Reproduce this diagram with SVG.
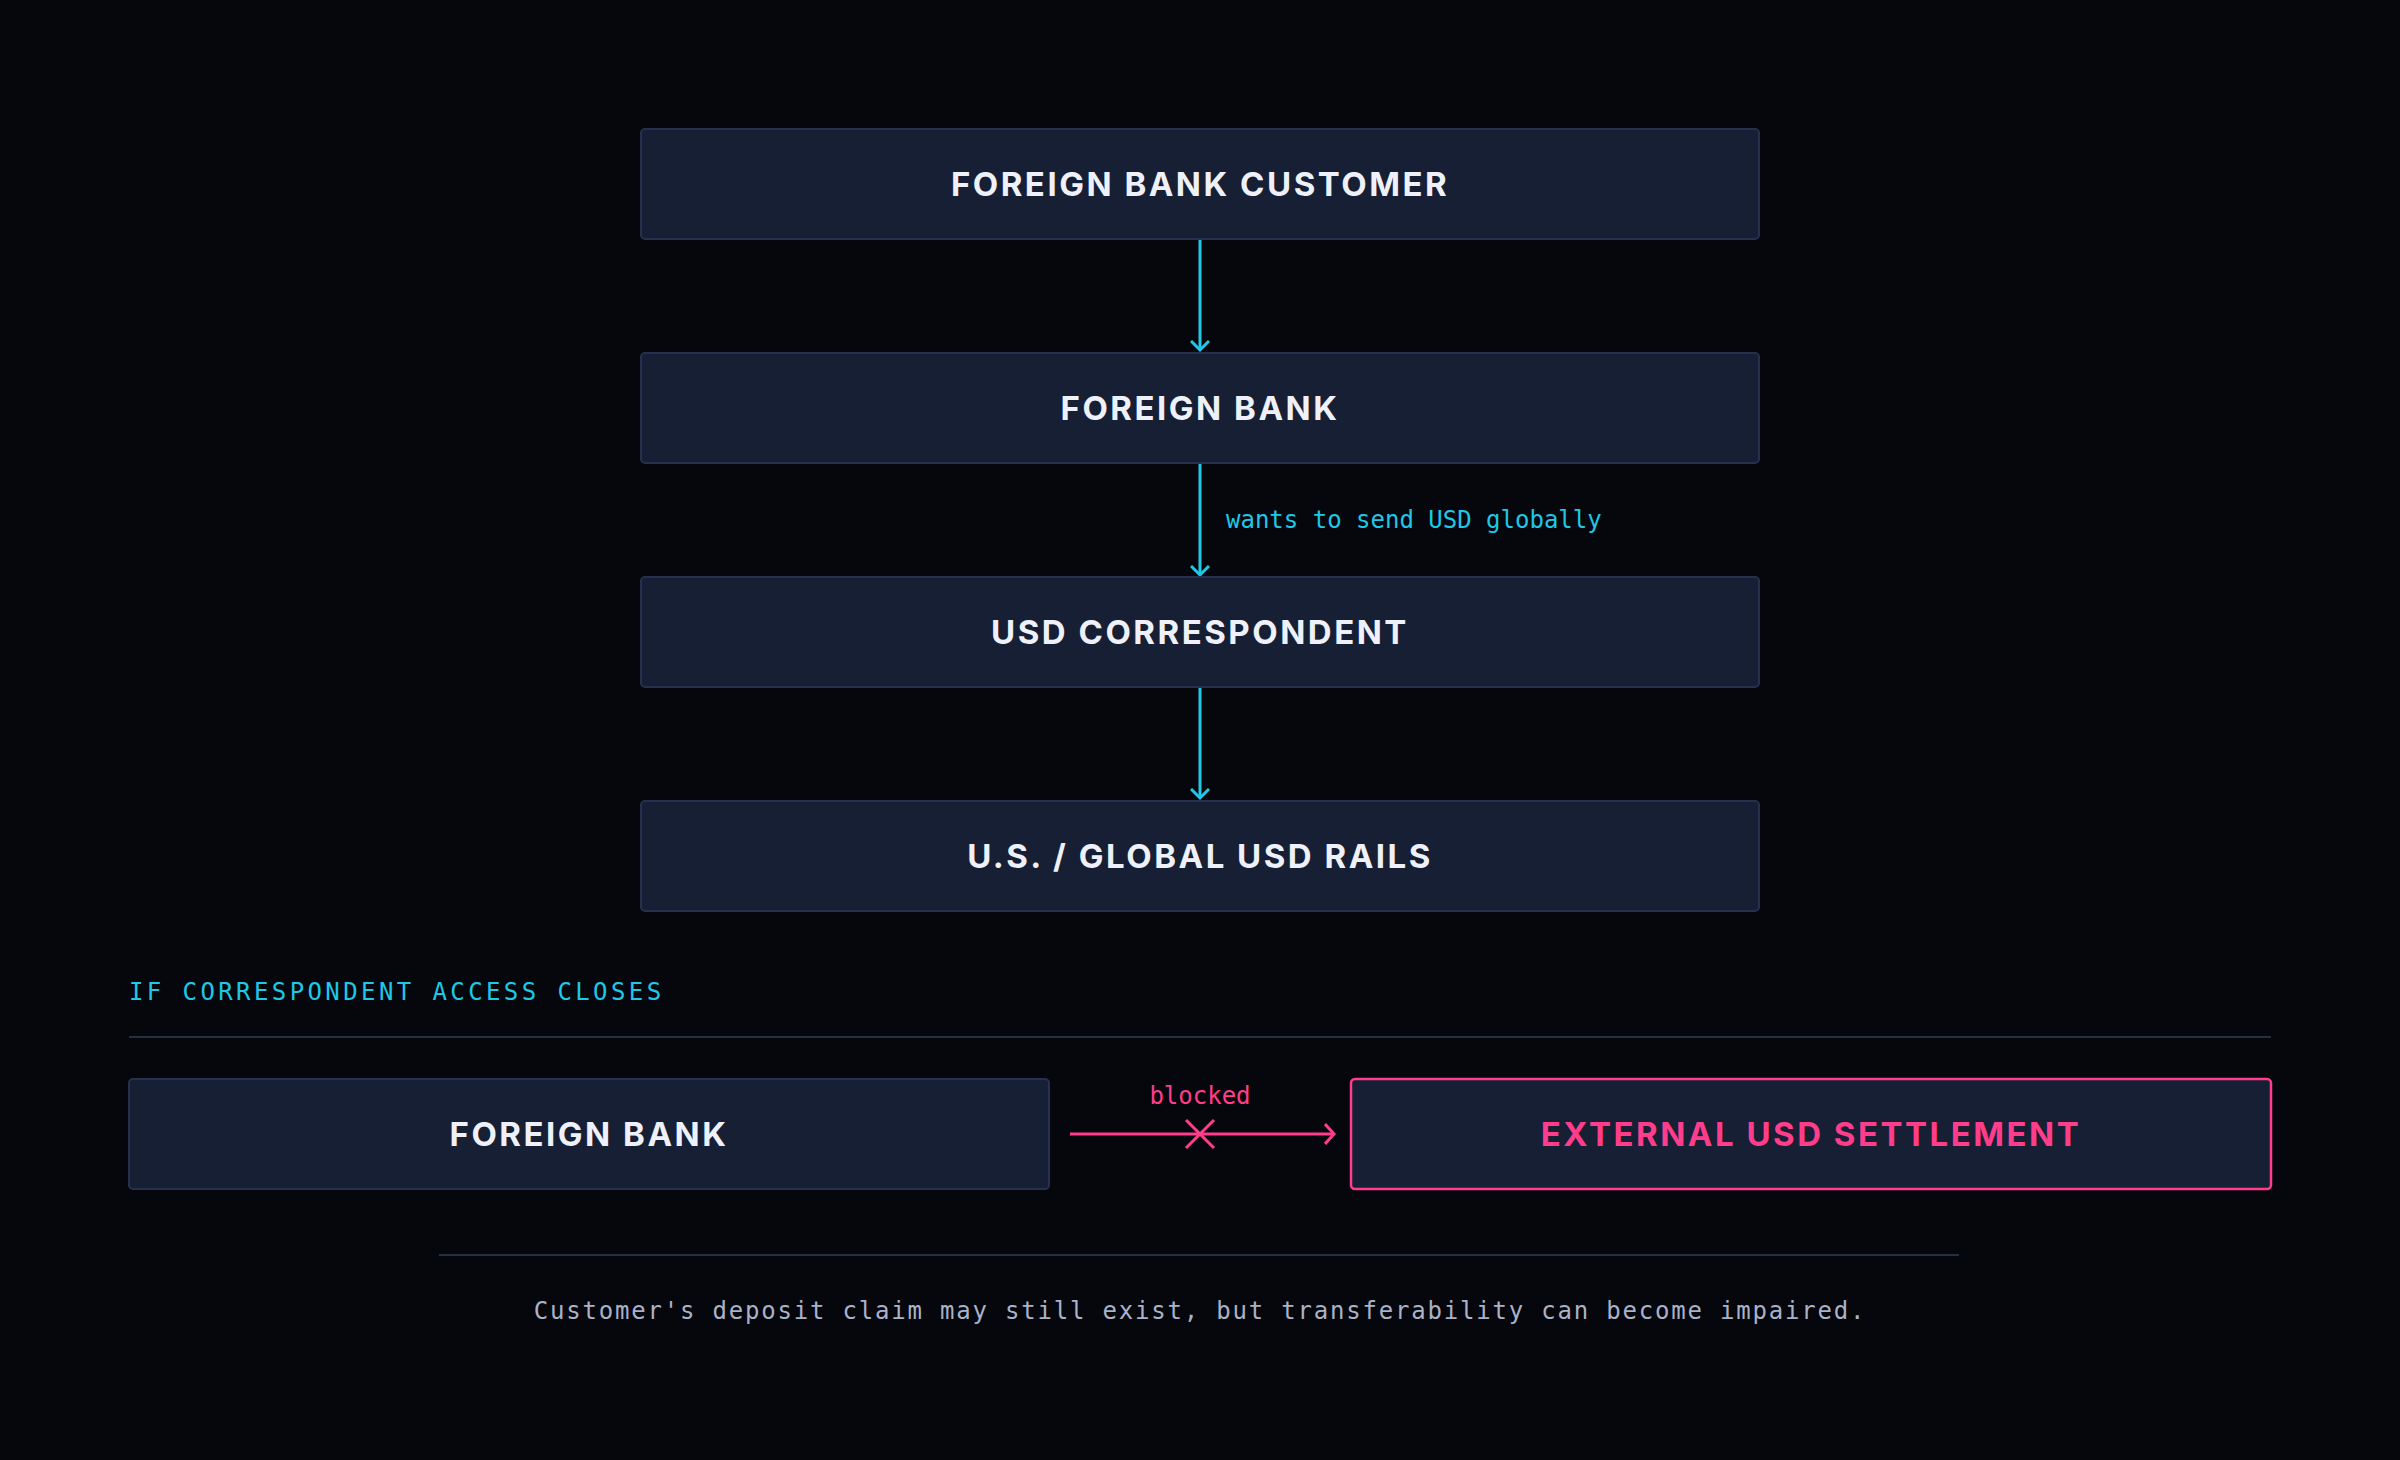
<svg xmlns="http://www.w3.org/2000/svg" width="2400" height="1460" viewBox="0 0 2400 1460">
<style>
.box{fill:#161f33;stroke:#263150;stroke-width:2}
.t{font-family:Inter,"Liberation Sans",sans-serif;font-weight:700;font-size:33px;letter-spacing:2.5px;fill:#eef1fa;text-anchor:middle;dominant-baseline:central}
.m{font-family:"DejaVu Sans Mono","Liberation Mono",monospace;font-size:24px}
.c{stroke:#1ec8e6;stroke-width:3;fill:none}
.p{stroke:#ff3d8b;stroke-width:3;fill:none}
</style>
<defs>
<marker id="ac" markerWidth="20" markerHeight="20" refX="10" refY="10" markerUnits="userSpaceOnUse" orient="auto"><path d="M1,1 L10,10 L1,19" class="c"/></marker>
<marker id="ap" markerWidth="20" markerHeight="22" refX="10" refY="11" markerUnits="userSpaceOnUse" orient="auto"><path d="M1,1 L10,11 L1,21" class="p"/></marker>
</defs>
<rect width="2400" height="1460" fill="#05070c"/>
<g id="connectors">
<line x1="1200" y1="240" x2="1200" y2="350" class="c" marker-end="url(#ac)"/>
<line x1="1200" y1="463" x2="1200" y2="575" class="c" marker-end="url(#ac)"/>
<text x="1226" y="520" class="m" fill="#1ec8e6" dominant-baseline="central">wants to send USD globally</text>
<line x1="1200" y1="688" x2="1200" y2="798" class="c" marker-end="url(#ac)"/>
<line x1="1070" y1="1134" x2="1334" y2="1134" class="p" marker-end="url(#ap)"/>
<path d="M1186,1120 L1214,1148 M1214,1120 L1186,1148" class="p"/>
<text x="1200" y="1096" class="m" fill="#ff3d8b" text-anchor="middle" dominant-baseline="central">blocked</text>
</g>
<g id="n1"><rect x="641" y="129" width="1118" height="110" rx="4" class="box"/><text x="1200" y="184" class="t">FOREIGN BANK CUSTOMER</text></g>
<g id="n2"><rect x="641" y="353" width="1118" height="110" rx="4" class="box"/><text x="1200" y="408" class="t">FOREIGN BANK</text></g>
<g id="n3"><rect x="641" y="577" width="1118" height="110" rx="4" class="box"/><text x="1200" y="632" class="t">USD CORRESPONDENT</text></g>
<g id="n4"><rect x="641" y="801" width="1118" height="110" rx="4" class="box"/><text x="1200" y="856" class="t">U.S. / GLOBAL USD RAILS</text></g>
<g id="section">
<text x="129" y="992" class="m" fill="#1ec8e6" letter-spacing="3.4" dominant-baseline="central">IF CORRESPONDENT ACCESS CLOSES</text>
<line x1="129" y1="1037" x2="2271" y2="1037" stroke="#262e42" stroke-width="2"/>
</g>
<g id="n5"><rect x="129" y="1079" width="920" height="110" rx="4" class="box"/><text x="589" y="1134" class="t">FOREIGN BANK</text></g>
<g id="n6"><rect x="1351" y="1079" width="920" height="110" rx="4" fill="#161f33" stroke="#ff3d8b" stroke-width="2.5"/><text x="1811" y="1134" class="t" fill="#ff3d8b" style="fill:#ff3d8b">EXTERNAL USD SETTLEMENT</text></g>
<g id="footer">
<line x1="439" y1="1255" x2="1959" y2="1255" stroke="#262e42" stroke-width="2"/>
<text x="1200" y="1311" class="m" font-size="28" letter-spacing="1.8" fill="#aab2c8" text-anchor="middle" dominant-baseline="central">Customer's deposit claim may still exist, but transferability can become impaired.</text>
</g>
</svg>
